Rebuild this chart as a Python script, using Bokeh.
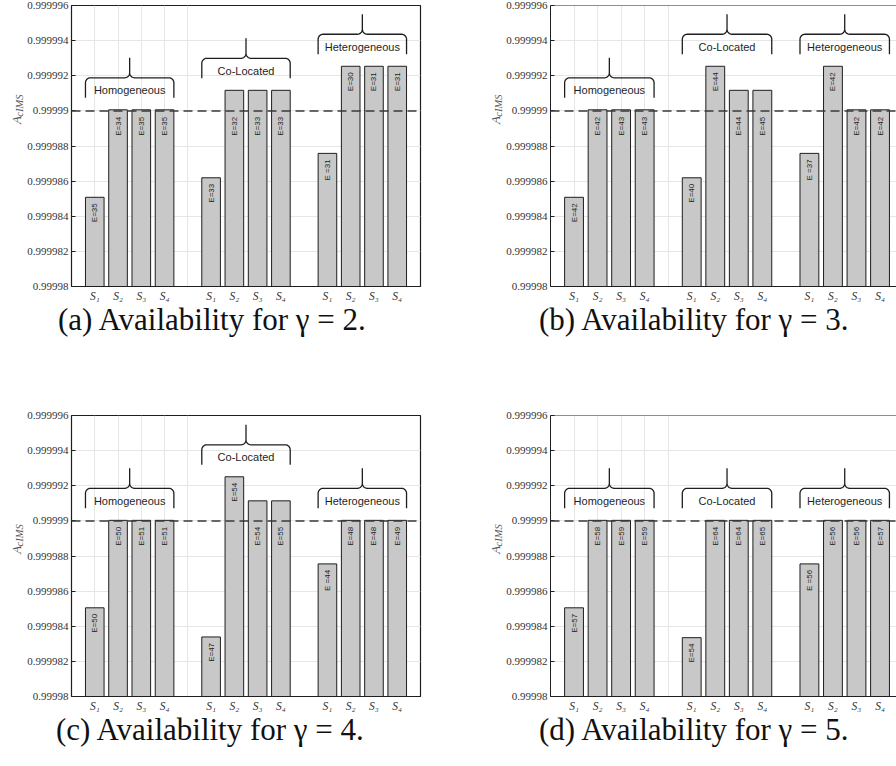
import math
from bokeh.plotting import figure
from bokeh.models import FixedTicker, Span, Label, Range1d, ColumnDataSource, Title
from bokeh.layouts import column, row
from bokeh.embed import file_html
from bokeh.resources import INLINE
from bokeh.core.properties import value

# ---- data -------------------------------------------------------------
groups = ["Homogeneous", "Co-Located", "Heterogeneous"]
schemes = ["S\u2081", "S\u2082", "S\u2083", "S\u2084"]
target = 0.99999

y_ticks = [0.99998, 0.999982, 0.999984, 0.999986, 0.999988,
           0.99999, 0.999992, 0.999994, 0.999996]
y_tick_labels = ["0.99998", "0.999982", "0.999984", "0.999986", "0.999988",
                 "0.99999", "0.999992", "0.999994", "0.999996"]

# availability per bar: Homogeneous S1..S4, Co-Located S1..S4, Heterogeneous S1..S4
avail_g2 = [0.99998508, 0.99999006, 0.99999006, 0.99999006,
            0.99998619, 0.99999117, 0.99999117, 0.99999117,
            0.99998758, 0.99999254, 0.99999254, 0.99999254]
avail_g3 = [0.99998508, 0.99999006, 0.99999006, 0.99999006,
            0.99998619, 0.99999254, 0.99999117, 0.99999117,
            0.99998758, 0.99999254, 0.99999006, 0.99999006]
avail_g4 = [0.99998505, 0.99999003, 0.99999003, 0.99999003,
            0.99998339, 0.99999251, 0.99999114, 0.99999114,
            0.99998755, 0.99999003, 0.99999003, 0.99999003]
avail_g5 = [0.99998505, 0.99999003, 0.99999003, 0.99999003,
            0.99998335, 0.99999003, 0.99999003, 0.99999003,
            0.99998755, 0.99999003, 0.99999003, 0.99999003]

energy_g2 = ["E=35", "E=34", "E=35", "E=35", "E=33", "E=32", "E=33", "E=33",
             "E =31", "E=30", "E=31", "E=31"]
energy_g3 = ["E=42", "E=42", "E=43", "E=43", "E=40", "E=44", "E=44", "E=45",
             "E =37", "E=42", "E=42", "E=42"]
energy_g4 = ["E=50", "E=50", "E=51", "E=51", "E=47", "E=54", "E=54", "E=55",
             "E =44", "E=48", "E=48", "E=49"]
energy_g5 = ["E=57", "E=58", "E=59", "E=59", "E=54", "E=64", "E=64", "E=65",
             "E =56", "E=56", "E=56", "E=57"]

captions = ["(a) Availability for \u03b3 = 2.", "(b) Availability for \u03b3 = 3.",
            "(c) Availability for \u03b3 = 4.", "(d) Availability for \u03b3 = 5."]

# ---- styling ------------------------------------------------------------
SERIF = "Liberation Serif"
SANS = "Liberation Sans"
INK = "#1e1e1e"
Y0, Y1 = y_ticks[0], y_ticks[-1]
FRAME_H = 281

# bar slots: each group takes four slots, with one empty slot between groups
bar_x = [5 * g + s + 1 for g in range(len(groups)) for s in range(len(schemes))]


def y_title(width, height, top, x_base):
    """Axis-free strip carrying the rotated A_cIMS title (data space = pixels, y up)."""
    f = figure(width=width, height=height, output_backend="svg", toolbar_location=None,
               x_range=Range1d(0, width), y_range=Range1d(0, height),
               x_axis_type=None, y_axis_type=None,
               min_border_left=0, min_border_right=0,
               min_border_top=0, min_border_bottom=0)
    f.outline_line_color = None
    f.grid.visible = False
    mid = height - top - FRAME_H / 2
    f.text(x=[x_base], y=[mid - 16], text=["A"], angle=math.pi / 2,
           text_align="left", text_baseline="alphabetic",
           text_font=value(SERIF), text_font_style="italic",
           text_font_size="13px", text_color="#555555")
    f.text(x=[x_base + 2.5], y=[mid - 6], text=["cIMS"], angle=math.pi / 2,
           text_align="left", text_baseline="alphabetic",
           text_font=value(SERIF), text_font_style="italic",
           text_font_size="10.5px", text_color="#555555")
    return f


def brace(p, x_left, x_right, y_base, ppx, ppy):
    """Curly brace opening downward, built in pixel steps converted to data."""
    h, r = 20.0, 5.0
    half = (x_right - x_left) * ppx / 2.0
    pts = [(0.0, 0.0), (0.0, h - r)]
    for k in range(1, 9):
        t = math.pi - k * (math.pi / 2) / 8
        pts.append((r + r * math.cos(t), h - r + r * math.sin(t)))
    pts.append((half - r, h))
    for k in range(1, 9):
        t = -math.pi / 2 + k * (math.pi / 2) / 8
        pts.append((half - r + r * math.cos(t), h + r + r * math.sin(t)))
    pts.append((half, 2 * h))
    right = [(2 * half - px, py) for px, py in reversed(pts)]
    full = pts + right[1:]
    xs = [x_left + px / ppx for px, _ in full]
    ys = [y_base + py / ppy for _, py in full]
    p.line(xs, ys, line_color=INK, line_width=1.3)


def panel(vals, texts, caption, cap_offset, width, height, left, top, right, x_end, clipped):
    bottom = height - top - FRAME_H
    p = figure(width=width, height=height, output_backend="svg",
               toolbar_location=None, x_range=Range1d(0, x_end),
               y_range=Range1d(Y0, Y1),
               min_border_left=left, min_border_right=right,
               min_border_top=top, min_border_bottom=bottom)
    fw = width - left - right
    ppx = fw / x_end
    ppy = FRAME_H / (Y1 - Y0)

    p.background_fill_color = "white"
    p.border_fill_color = "white"
    if clipped:
        p.outline_line_color = None
        p.add_layout(Span(location=Y1, dimension="width", line_color=INK, line_width=1.2))
    else:
        p.outline_line_color = INK
        p.outline_line_width = 1.2

    # grids
    p.ygrid.ticker = FixedTicker(ticks=y_ticks)
    p.xgrid.ticker = FixedTicker(ticks=[1, 2, 3, 4, 5])
    p.grid.grid_line_color = "#e6e6e6"
    p.grid.grid_line_width = 1

    # y axis
    p.yaxis.ticker = FixedTicker(ticks=y_ticks)
    p.yaxis.major_label_overrides = dict(zip(y_ticks, y_tick_labels))
    p.yaxis.major_label_text_font = SERIF
    p.yaxis.major_label_text_font_size = "11px"
    p.yaxis.major_label_text_color = "#333333"
    p.yaxis.major_label_standoff = 3
    p.yaxis.major_tick_in = 4
    p.yaxis.major_tick_out = 0
    p.yaxis.minor_tick_line_color = None
    p.yaxis.axis_line_color = INK
    p.yaxis.major_tick_line_color = INK

    # x axis with scheme names under each bar
    p.xaxis.ticker = FixedTicker(ticks=bar_x)
    p.xaxis.major_label_overrides = {x: schemes[i % 4] for i, x in enumerate(bar_x)}
    p.xaxis.major_label_text_font = SERIF
    p.xaxis.major_label_text_font_style = "italic"
    p.xaxis.major_label_text_font_size = "11.5px"
    p.xaxis.major_label_text_color = "#333333"
    p.xaxis.major_label_standoff = 3
    p.xaxis.major_tick_in = 0
    p.xaxis.major_tick_out = 0
    p.xaxis.major_tick_line_color = None
    p.xaxis.minor_tick_line_color = None
    p.xaxis.axis_line_color = INK
    p.xaxis.axis_line_width = 1.2

    # caption under the panel
    p.add_layout(Title(text=caption, align="left", offset=cap_offset, standoff=-10,
                       text_font=SERIF, text_font_style="normal",
                       text_font_size="31px", text_color="#111111"), "below")

    # bars; labels of bars that only just clear the target sit at the target line
    src = ColumnDataSource(dict(x=bar_x, top=vals, text=texts,
                                anchor=[target if target <= v < 0.999992 else v for v in vals]))
    p.vbar(x="x", top="top", bottom=Y0, width=0.8, source=src,
           fill_color="#c8c8c8", line_color=INK, line_width=1)
    p.text(x="x", y="anchor", text="text", source=src, angle=math.pi / 2,
           text_align="right", text_baseline="middle", y_offset=6,
           text_font=value(SANS), text_font_size="8px", text_color=INK)

    # target availability
    p.add_layout(Span(location=target, dimension="width", line_color="#3a3a3a",
                      line_dash="9 5", line_width=1.5))

    # group braces and names
    for g, name in enumerate(groups):
        xs = bar_x[4 * g:4 * g + 4]
        top_v = max(vals[4 * g:4 * g + 4])
        yb = top_v + 12 / ppy
        brace(p, xs[0] - 0.4, xs[-1] + 0.4, yb, ppx, ppy)
        p.add_layout(Label(x=(xs[0] + xs[-1]) / 2, y=yb + 7.5 / ppy, text=name,
                           text_align="center", text_baseline="middle",
                           text_font=SANS, text_font_size="11px", text_color=INK))
    return p


H = 383
pa = panel(avail_g2, energy_g2, captions[0], -13.5, 424, H, 46, 5, 28, 15, False)
pb = panel(avail_g3, energy_g3, captions[1], -11.5, 393, H, 45, 5, 0, 14.7, True)
pc = panel(avail_g4, energy_g4, captions[2], -15.5, 424, H, 46, 32, 28, 15, False)
pd = panel(avail_g5, energy_g5, captions[3], -11.5, 393, H, 45, 32, 0, 14.7, True)

row1 = row(y_title(24, H, 5, 16), pa, y_title(55, H, 5, 47), pb)
row2 = row(y_title(24, H, 32, 16), pc, y_title(55, H, 32, 47), pd)

layout = column(row1, row2)
open("out.html", "w").write(file_html(layout, INLINE))
